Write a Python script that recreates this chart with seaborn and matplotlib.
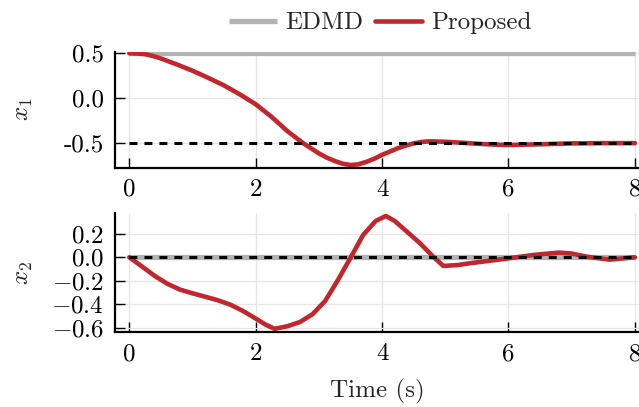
import numpy as np
import pandas as pd
import matplotlib
matplotlib.use("Agg")
import matplotlib.pyplot as plt
import seaborn as sns

# ---- data ----
t_ref = [0.0, 8.0]
edmd_x1 = [0.5, 0.5]
edmd_x2 = [0.0, 0.0]
goal_x1 = [-0.5, -0.5]
goal_x2 = [0.0, 0.0]

t1 = [0.0, 0.125, 0.25, 0.375, 0.5, 0.75, 1.0, 1.25, 1.5, 1.75, 2.0, 2.25,
      2.5, 2.75, 3.0, 3.125, 3.25, 3.375, 3.5, 3.625, 3.75, 3.875, 4.0, 4.25,
      4.375, 4.5, 4.625, 4.75, 5.0, 5.25, 5.5, 5.75, 6.0, 6.5, 7.0, 7.5, 8.0]
prop_x1 = [0.5, 0.497, 0.49, 0.47, 0.442, 0.376, 0.305, 0.225, 0.14, 0.04,
           -0.07, -0.21, -0.37, -0.505, -0.62, -0.667, -0.705, -0.735, -0.75,
           -0.742, -0.715, -0.68, -0.636, -0.562, -0.532, -0.508, -0.492,
           -0.485, -0.49, -0.5, -0.512, -0.521, -0.526, -0.518, -0.508,
           -0.505, -0.505]

t2 = [0.0, 0.2, 0.4, 0.6, 0.8, 1.0, 1.2, 1.4, 1.6, 1.8, 2.0, 2.15, 2.3, 2.5,
      2.7, 2.9, 3.1, 3.3, 3.5, 3.7, 3.9, 4.06, 4.2, 4.4, 4.6, 4.8, 4.97, 5.2,
      5.4, 5.7, 6.0, 6.4, 6.8, 7.0, 7.24, 7.6, 8.0]
prop_x2 = [0.0, -0.078, -0.158, -0.225, -0.275, -0.307, -0.336, -0.366,
           -0.404, -0.458, -0.522, -0.572, -0.61, -0.588, -0.552, -0.485,
           -0.372, -0.195, -0.005, 0.19, 0.31, 0.352, 0.31, 0.215, 0.12, 0.01,
           -0.074, -0.066, -0.05, -0.03, -0.009, 0.02, 0.04, 0.032, 0.005,
           -0.02, 0.0]

x_ticks = [0, 2, 4, 6, 8]
x1_ticks = [0.5, 0.0, -0.5]
x1_tick_labels = ["0.5", "0.0", "-0.5"]
x2_ticks = [0.2, 0.0, -0.2, -0.4, -0.6]
x2_tick_labels = ["$0.2$", "$0.0$", "$-0.2$", "$-0.4$", "$-0.6$"]

# ---- style ----
sns.set_theme(style="whitegrid")
plt.rcParams.update({
    "font.family": "serif",
    "font.serif": ["cmr10"],
    "mathtext.fontset": "cm",
    "axes.unicode_minus": False,
    "axes.formatter.use_mathtext": True,
    "font.size": 18,
})

RED = "#c1272d"
GRAY = "#b3b3b3"
FS = 18

fig = plt.figure(figsize=(6.39, 4.07), dpi=100)
left = 115 / 639
width = 1 - left
ax1 = fig.add_axes([left, 1 - 167.7 / 407, width, 116.2 / 407])
ax2 = fig.add_axes([left, 1 - 332 / 407, width, 118.7 / 407])

df_ref = pd.DataFrame({"t": t_ref, "e1": edmd_x1, "e2": edmd_x2,
                       "g1": goal_x1, "g2": goal_x2})
df1 = pd.DataFrame({"t": t1, "x1": prop_x1})
df2 = pd.DataFrame({"t": t2, "x2": prop_x2})

for ax, ecol, gcol, dfp, pcol in [(ax1, "e1", "g1", df1, "x1"),
                                  (ax2, "e2", "g2", df2, "x2")]:
    sns.lineplot(data=df_ref, x="t", y=ecol, ax=ax, color=GRAY, linewidth=3.8,
                 label="EDMD", legend=False, solid_capstyle="butt")
    sns.lineplot(data=dfp, x="t", y=pcol, ax=ax, color=RED, linewidth=3.3,
                 label="Proposed", legend=False, sort=False)
    sns.lineplot(data=df_ref, x="t", y=gcol, ax=ax, color="black",
                 linewidth=2.2, legend=False)
    ax.lines[-1].set_dashes((2.6, 2.3))

    ax.set_xlim(-0.226, 8.065)
    ax.set_xticks(x_ticks)
    ax.set_xticklabels([str(v) for v in x_ticks])
    ax.grid(True, color="#e6e6e6", linewidth=0.9)
    ax.set_facecolor("white")
    for s in ["top", "right"]:
        ax.spines[s].set_visible(False)
    for s in ["left", "bottom"]:
        ax.spines[s].set_visible(True)
        ax.spines[s].set_color("black")
        ax.spines[s].set_linewidth(1.6)
    ax.tick_params(axis="both", direction="in", length=7.5, width=1.0,
                   colors="black", labelsize=FS, pad=8,
                   left=True, bottom=True)
    ax.set_xlabel("")

ax1.set_ylim(-0.78, 0.52)
ax1.set_yticks(x1_ticks)
ax1.set_yticklabels(x1_tick_labels)
ax1.set_ylabel("$x_1$", fontsize=FS)

ax2.set_ylim(-0.637, 0.375)
ax2.set_yticks(x2_ticks)
ax2.set_yticklabels(x2_tick_labels)
ax2.set_ylabel("$x_2$", fontsize=FS)
ax2.set_xlabel("Time (s)", fontsize=FS, labelpad=10)

ax1.yaxis.set_label_coords(-0.153, 0.5)
ax2.yaxis.set_label_coords(-0.153, 0.5)

h, l = ax1.get_legend_handles_labels()
fig.legend(h[:2], l[:2], loc="center", bbox_to_anchor=(0.595, 0.943),
           ncol=2, frameon=False, fontsize=FS, handlelength=1.9,
           handletextpad=0.35, columnspacing=0.45, borderaxespad=0)

fig.savefig("out.png", dpi=100)
